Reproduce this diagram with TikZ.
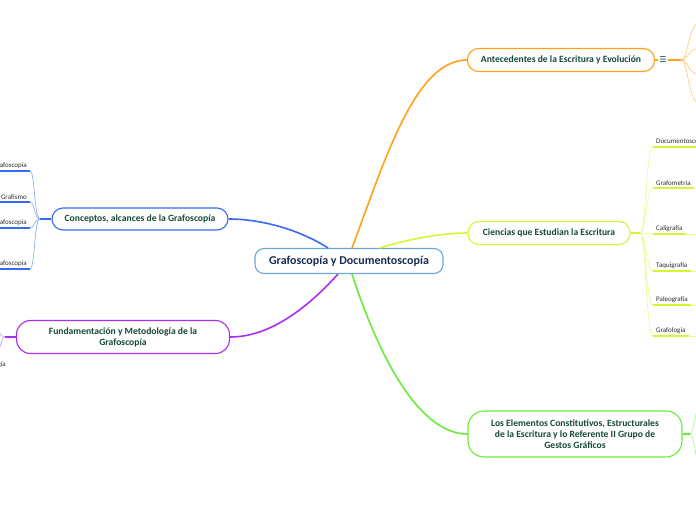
\documentclass[tikz,border=0pt]{standalone}
\usepackage{fontspec}
\setmainfont{Carlito}
\newfontfamily\menufont{DejaVu Sans}
\definecolor{mapRootBorder}{RGB}{105,168,218}
\definecolor{mapRootText}{RGB}{24,44,82}
\definecolor{mapTopicText}{RGB}{22,72,56}
\definecolor{mapLeafText}{RGB}{45,45,45}
\definecolor{mapOrange}{RGB}{255,160,25}
\definecolor{mapOrangeLight}{RGB}{255,205,130}
\definecolor{mapLime}{RGB}{215,245,50}
\definecolor{mapLimeLight}{RGB}{232,250,150}
\definecolor{mapGreen}{RGB}{105,235,55}
\definecolor{mapGreenLight}{RGB}{175,245,145}
\definecolor{mapBlue}{RGB}{55,105,245}
\definecolor{mapBlueLight}{RGB}{145,175,250}
\definecolor{mapPurple}{RGB}{170,45,240}
\definecolor{mapPurpleLight}{RGB}{212,155,250}
\begin{document}
\begin{tikzpicture}[x=1pt,y=-1pt,
    root/.style={draw=mapRootBorder, fill=white, rounded corners=9pt, line width=1.1pt,
      font=\fontsize{12}{14}\selectfont\bfseries, text=mapRootText,
      minimum height=25pt, inner sep=0pt},
    topic/.style={draw=#1, fill=white, rounded corners=11pt, line width=1.1pt,
      font=\fontsize{9.6}{11}\selectfont\bfseries, text=mapTopicText,
      align=center, inner sep=0pt},
    leaf/.style={font=\fontsize{7}{8}\selectfont, text=mapLeafText,
      inner xsep=3pt, inner ysep=2pt},
    branch/.style={draw=#1, line width=1.6pt},
    twig/.style={draw=#1, line width=.7pt},
    leafline/.style={draw=#1, line width=1.5pt}]
  \useasboundingbox (0,0) rectangle (696,520);
  \clip (0,0) rectangle (696,520);

  % main topics
  \node[root, minimum width=188pt] (central) at (349,261) {Grafoscopía y Documentoscopía};
  \node[topic=mapOrange, minimum width=187pt, minimum height=23pt] (antecedentes)
    at (561,60) {Antecedentes de la Escritura y Evolución};
  \node[topic=mapLime, minimum width=162pt, minimum height=23pt] (ciencias)
    at (549,233) {Ciencias que Estudian la Escritura};
  \node[topic=mapGreen, minimum width=214pt, minimum height=46pt, rounded corners=16pt] (elementos)
    at (575,434) {Los Elementos Constitutivos, Estructurales\\de la Escritura y lo Referente II Grupo de\\Gestos Gráficos};
  \node[topic=mapBlue, minimum width=176pt, minimum height=22pt] (conceptos)
    at (140,219) {Conceptos, alcances de la Grafoscopía};
  \node[topic=mapPurple, minimum width=213pt, minimum height=33pt, rounded corners=14pt] (fundamentacion)
    at (123,337) {Fundamentación y Metodología de la\\Grafoscopía};

  \draw[branch=mapBlue] ([xshift=-21pt]central.north) .. controls (300,230) and (262,219) .. (conceptos.east);
  \draw[branch=mapOrange] ([xshift=3pt]central.north) .. controls (385,160) and (415,60) .. (antecedentes.west);
  \draw[branch=mapLime] ([xshift=31pt]central.north) .. controls (405,240) and (440,233) .. (ciencias.west);
  \draw[branch=mapPurple] ([xshift=-11pt]central.south) .. controls (310,305) and (272,337) .. (fundamentacion.east);
  \draw[branch=mapGreen] ([xshift=3pt]central.south) .. controls (380,360) and (420,434) .. (elementos.west);

  % antecedentes
  \node[text=mapTopicText, font=\fontsize{8}{8}\selectfont\menufont, inner sep=1pt] (antecedentesMenu) at (663,60) {☰};
  \coordinate (antecedentesFork) at (681,60);
  \draw[branch=mapOrange, line width=1.2pt] (antecedentes.east) -- (antecedentesMenu.west);
  \draw[branch=mapOrange, line width=1.2pt] (antecedentesMenu.east) -- (antecedentesFork);
  \foreach \y [count=\i] in {22,48,75,105}{
    \coordinate (antecedentesSub\i) at (702,\y);
    \draw[twig=mapOrangeLight] (antecedentesFork) .. controls (689,60) and (687,\y) .. (antecedentesSub\i);}

  % ciencias
  \coordinate (cienciasFork) at (640,233);
  \draw[branch=mapLime, line width=1.2pt] (ciencias.east) -- (cienciasFork);
  \foreach \name/\y/\txt in {documentoscopia/147/Documentoscopía, grafometria/188/Grafometría,
      caligrafia/234/Caligrafía, taquigrafia/271/Taquigrafía,
      paleografia/305/Paleografía, grafologia/336/Grafología}{
    \node[leaf, anchor=south west] (\name) at (653,\y) {\txt};
    \draw[twig=mapLimeLight] (cienciasFork) .. controls (646,233) and (646,\y) .. (\name.south west);
    \draw[leafline=mapLime] (\name.south west) -- (\name.south east);
    \draw[twig=mapLimeLight] (\name.south east) -- ++(20,0);}

  % elementos
  \coordinate (elementosFork) at (690,434);
  \coordinate (elementosUp) at (700,400);
  \coordinate (elementosDown) at (700,470);
  \draw[branch=mapGreen, line width=1.2pt] (elementos.east) -- (elementosFork);
  \draw[twig=mapGreenLight] (elementosFork) .. controls (694,434) and (695,410) .. (elementosUp);
  \draw[twig=mapGreenLight] (elementosFork) .. controls (694,434) and (695,458) .. (elementosDown);

  % conceptos
  \coordinate (conceptosFork) at (40,219);
  \draw[branch=mapBlue, line width=1.2pt] (conceptos.west) -- (conceptosFork);
  \foreach \name/\y/\txt in {conceptoA/171/Grafoscopía, conceptoB/202/Grafismo,
      conceptoC/228/Grafoscopía, conceptoD/269/Grafoscopía}{
    \node[leaf, anchor=south east] (\name) at (30,\y) {\txt};
    \draw[twig=mapBlueLight] (conceptosFork) .. controls (34,219) and (35,\y) .. (\name.south east);
    \draw[leafline=mapBlue] (\name.south east) -- ++(-40,0);}

  % fundamentacion
  \coordinate (fundamentacionFork) at (5,337);
  \coordinate (fundamentacionUp) at (-5,318);
  \coordinate (fundamentacionDown) at (-5,366);
  \draw[branch=mapPurple, line width=1.2pt] (fundamentacion.west) -- (fundamentacionFork);
  \draw[twig=mapPurpleLight] (fundamentacionFork) .. controls (0,337) and (-2,330) .. (fundamentacionUp);
  \draw[twig=mapPurpleLight] (fundamentacionFork) .. controls (1,337) and (0,350) .. (fundamentacionDown);
  \node[leaf, anchor=south east] (fundamentacionLeaf) at (9,370) {Grafología};
\end{tikzpicture}
\end{document}
